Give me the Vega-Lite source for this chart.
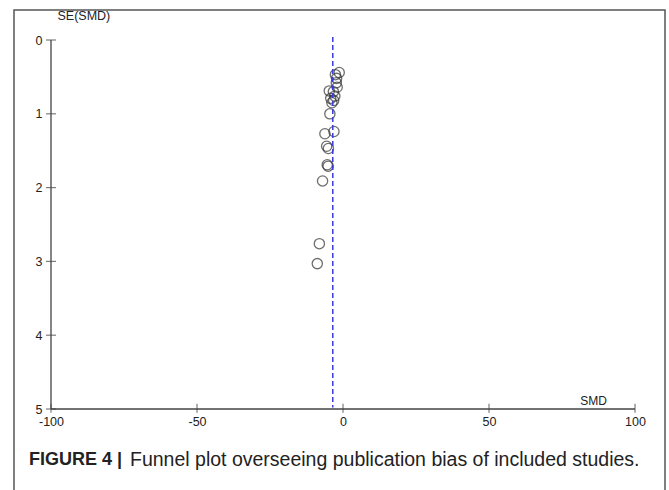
{
  "$schema": "https://vega.github.io/schema/vega-lite/v6.json",
  "width": 651,
  "height": 490,
  "autosize": "none",
  "padding": {"left": 14, "top": 10, "right": 4, "bottom": 0},
  "background": "white",
  "config": {
    "view": {"stroke": "#555555", "strokeWidth": 1.5},
    "font": "Liberation Sans"
  },
  "datasets": {
    "studies": [
      {"SMD": -1.3, "SE": 0.44},
      {"SMD": -2.6, "SE": 0.47},
      {"SMD": -2.2, "SE": 0.52},
      {"SMD": -2.3, "SE": 0.58},
      {"SMD": -2.0, "SE": 0.64},
      {"SMD": -4.7, "SE": 0.69},
      {"SMD": -3.3, "SE": 0.70},
      {"SMD": -2.8, "SE": 0.76},
      {"SMD": -4.2, "SE": 0.79},
      {"SMD": -3.2, "SE": 0.82},
      {"SMD": -3.8, "SE": 0.85},
      {"SMD": -4.5, "SE": 1.00},
      {"SMD": -3.1, "SE": 1.24},
      {"SMD": -6.2, "SE": 1.27},
      {"SMD": -5.6, "SE": 1.44},
      {"SMD": -5.0, "SE": 1.47},
      {"SMD": -5.4, "SE": 1.69},
      {"SMD": -5.1, "SE": 1.71},
      {"SMD": -7.0, "SE": 1.91},
      {"SMD": -8.1, "SE": 2.76},
      {"SMD": -8.8, "SE": 3.03}
    ],
    "xticks": [{"v": -100}, {"v": -50}, {"v": 0}, {"v": 50}, {"v": 100}],
    "yticks": [{"v": 0}, {"v": 1}, {"v": 2}, {"v": 3}, {"v": 4}, {"v": 5}],
    "one": [{}],
    "caption": [{"bold": "FIGURE 4 |", "text": "Funnel plot overseeing publication bias of included studies."}]
  },
  "layer": [
    {
      "data": {"name": "studies"},
      "mark": {"type": "point", "shape": "circle", "filled": false, "stroke": "#333333", "strokeWidth": 1.3, "size": 105},
      "encoding": {
        "x": {
          "field": "SMD", "type": "quantitative",
          "scale": {"domain": [-112.67, 110.27], "nice": false, "zero": false},
          "axis": {
            "orient": "bottom", "offset": -91, "domain": false, "ticks": false, "grid": false,
            "values": [-100, -50, 0, 50, 100], "labelExpr": "datum.value + ''", "labelPadding": 6, "labelFontSize": 12.5,
            "labelColor": "#222222", "labelFont": "Liberation Sans",
            "title": "SMD", "titleX": 579, "titleY": -5, "titleAlign": "center",
            "titleBaseline": "alphabetic", "titleFontWeight": "normal", "titleFontSize": 12,
            "titleColor": "#222222", "titleFont": "Liberation Sans"
          }
        },
        "y": {
          "field": "SE", "type": "quantitative",
          "scale": {"domain": [-0.4065, 6.233], "nice": false, "zero": false, "reverse": true},
          "axis": {
            "orient": "left", "offset": -37, "domain": false, "ticks": false, "grid": false,
            "values": [0, 1, 2, 3, 4, 5], "labelExpr": "datum.value + ''", "labelPadding": 9, "labelFontSize": 12.5,
            "labelColor": "#222222", "labelFont": "Liberation Sans",
            "title": "SE(SMD)", "titleAngle": 0, "titleX": 6, "titleY": 9, "titleAlign": "left",
            "titleBaseline": "alphabetic", "titleFontWeight": "normal", "titleFontSize": 12.5,
            "titleColor": "#222222", "titleFont": "Liberation Sans"
          }
        }
      }
    },
    {
      "data": {"name": "one"},
      "mark": {"type": "rule", "color": "#444444", "strokeWidth": 1.3},
      "encoding": {
        "x": {"datum": -100},
        "x2": {"datum": 100},
        "y": {"datum": 5}
      }
    },
    {
      "data": {"name": "one"},
      "mark": {"type": "rule", "color": "#444444", "strokeWidth": 1.3},
      "encoding": {
        "x": {"datum": -100},
        "y": {"datum": 0},
        "y2": {"datum": 5}
      }
    },
    {
      "data": {"name": "xticks"},
      "mark": {"type": "tick", "orient": "vertical", "size": 9, "thickness": 1.2, "color": "#444444"},
      "encoding": {
        "x": {"field": "v", "type": "quantitative"},
        "y": {"datum": 4.99}
      }
    },
    {
      "data": {"name": "yticks"},
      "mark": {"type": "tick", "orient": "horizontal", "size": 10, "thickness": 1.2, "color": "#444444"},
      "encoding": {
        "x": {"datum": -100},
        "y": {"field": "v", "type": "quantitative"}
      }
    },
    {
      "data": {"name": "one"},
      "mark": {"type": "rule", "color": "#3a3ae0", "strokeWidth": 1.5, "strokeDash": [5, 3]},
      "encoding": {
        "x": {"datum": -3.5},
        "y": {"datum": -0.04},
        "y2": {"datum": 4.98}
      }
    },
    {
      "data": {"name": "caption"},
      "mark": {"type": "text", "align": "left", "baseline": "middle", "fontSize": 18, "fontWeight": "bold", "font": "Liberation Sans", "color": "#222222"},
      "encoding": {
        "x": {"datum": -107.53},
        "y": {"datum": 5.691},
        "text": {"field": "bold"}
      }
    },
    {
      "data": {"name": "caption"},
      "mark": {"type": "text", "align": "left", "baseline": "middle", "fontSize": 19.5, "font": "Liberation Sans", "color": "#222222"},
      "encoding": {
        "x": {"datum": -72.94},
        "y": {"datum": 5.691},
        "text": {"field": "text"}
      }
    }
  ]
}
